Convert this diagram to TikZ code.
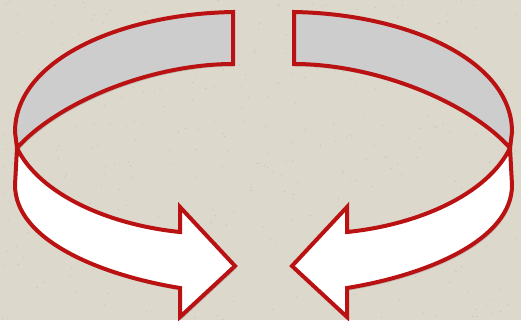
\documentclass[tikz,border=0pt]{standalone}
\usetikzlibrary{shadows}
\definecolor{paper}{RGB}{221,216,204}
\definecolor{rim}{RGB}{186,18,18}
\definecolor{inside}{RGB}{205,205,205}
% one half of the ring: back band and front arrow
\newcommand{\ringhalf}{%
  \coordinate (TR) at (233,12);
  \coordinate (BR) at (233,64);
  \coordinate (J) at (17,148);
  \coordinate (LE) at (15,132);
  \coordinate (LB) at (15,185);
  \coordinate (NT) at (180,232);
  \coordinate (HT) at (180,207);
  \coordinate (TIP) at (235,266);
  \coordinate (HB) at (180,317);
  \coordinate (NB) at (180,288);
  \draw[line,fill=inside] (LE) .. controls (15,60) and (120,14) .. (TR) -- (BR)
    .. controls (150,64) and (57,103) .. (J) -- cycle;
  \draw[line,fill=white] (J) .. controls (40,195) and (110,225) .. (NT) -- (HT)
    -- (TIP) -- (HB) -- (NB) .. controls (100,275) and (15,240) .. (LB) -- cycle;
}
\begin{document}
\begin{tikzpicture}[
  x=1bp,y=-1bp,
  line/.style={draw=rim,line width=4bp,line join=miter,miter limit=3,
    drop shadow={opacity=0.3,shadow xshift=1.5bp,shadow yshift=-2.5bp}},
  speck/.style={fill=black!55,opacity=0.25}]
  \fill[paper] (0,0) rectangle (521,320);
  \useasboundingbox (0,0) rectangle (521,320);
  \pgfmathsetseed{11}
  \foreach \i in {1,...,350}
    \fill[speck] (rnd*521,rnd*320) circle (0.6);
  \begin{scope}
    \ringhalf
  \end{scope}
  \begin{scope}[xshift=527bp,xscale=-1]
    \ringhalf
  \end{scope}
\end{tikzpicture}
\end{document}
